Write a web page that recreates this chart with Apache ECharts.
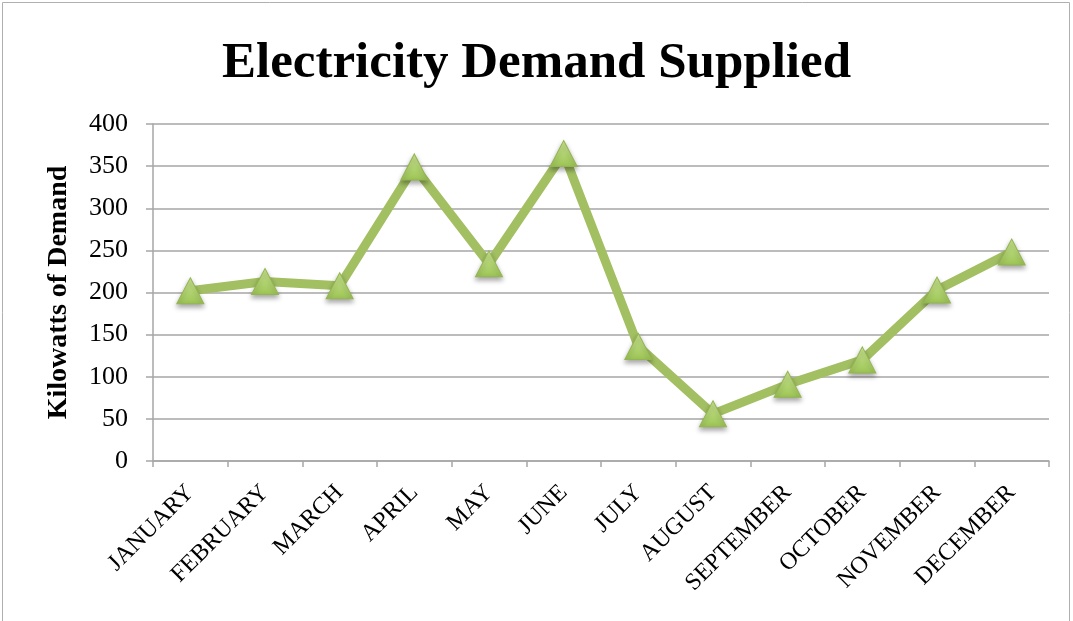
<!DOCTYPE html>
<html>
<head>
<meta charset="utf-8">
<script src="https://cdn.jsdelivr.net/npm/echarts@6/dist/echarts.min.js"></script>
<style>
  html, body { margin: 0; padding: 0; background: #fff; }
  #chart { width: 1073px; height: 621px; }
</style>
</head>
<body>
<div id="chart"></div>
<script>
// Monthly electricity demand, kilowatts
const months = ['JANUARY', 'FEBRUARY', 'MARCH', 'APRIL', 'MAY', 'JUNE', 'JULY',
  'AUGUST', 'SEPTEMBER', 'OCTOBER', 'NOVEMBER', 'DECEMBER'];
const demand = [202, 213, 208, 349, 234, 365, 136, 56, 91, 120, 203, 248];
const yTicks = [0, 50, 100, 150, 200, 250, 300, 350, 400];

const serif = '"Liberation Serif", "DejaVu Serif", serif';
const gridGray = '#a6a6a6';

const chart = echarts.init(document.getElementById('chart'), null, { renderer: 'canvas' });

chart.setOption({
  animation: false,
  backgroundColor: '#fff',
  title: {
    text: 'Electricity Demand Supplied',
    left: 'center',
    top: 33,
    textStyle: { fontFamily: serif, fontWeight: 'bold', fontSize: 51, color: '#000' }
  },
  graphic: [{
    type: 'rect',
    shape: { x: 2.5, y: 2.5, width: 1067, height: 1000 },
    style: { fill: 'none', stroke: '#b0b0b0', lineWidth: 1 },
    silent: true
  }],
  grid: { left: 153, right: 24, top: 124, bottom: 160, containLabel: false },
  xAxis: {
    type: 'category',
    data: months,
    boundaryGap: true,
    axisLine: { show: true, lineStyle: { color: gridGray, width: 1.5 } },
    axisTick: { show: true, length: 6, alignWithLabel: false, lineStyle: { color: gridGray, width: 1.5 } },
    axisLabel: {
      rotate: 45,
      margin: 28,
      interval: 0,
      fontFamily: serif,
      fontSize: 24,
      color: '#000'
    },
    splitLine: { show: false }
  },
  yAxis: {
    type: 'value',
    min: yTicks[0],
    max: yTicks[yTicks.length - 1],
    interval: 50,
    name: 'Kilowatts of Demand',
    nameLocation: 'middle',
    nameGap: 80,
    nameRotate: 90,
    nameTextStyle: { fontFamily: serif, fontWeight: 'bold', fontSize: 28, color: '#000' },
    axisLine: { show: true, lineStyle: { color: gridGray, width: 1.5 } },
    axisTick: { show: true, length: 7, lineStyle: { color: gridGray, width: 1.5 } },
    axisLabel: { margin: 25, fontFamily: serif, fontSize: 26, color: '#000' },
    splitLine: { show: true, lineStyle: { color: gridGray, width: 1.5 } }
  },
  series: [{
    type: 'line',
    data: demand,
    symbol: 'triangle',
    symbolSize: [27, 26],
    lineStyle: { color: '#a2c062', width: 9, cap: 'round', join: 'round' },
    itemStyle: {
      color: new echarts.graphic.LinearGradient(0, 0, 0, 1, [
        { offset: 0, color: '#cde894' },
        { offset: 1, color: '#9cc454' }
      ]),
      borderColor: '#94b551',
      borderWidth: 1,
      shadowColor: 'rgba(0,0,0,0.35)',
      shadowBlur: 5,
      shadowOffsetY: 3
    },
    emphasis: { disabled: true },
    z: 3
  }]
});
</script>
</body>
</html>
